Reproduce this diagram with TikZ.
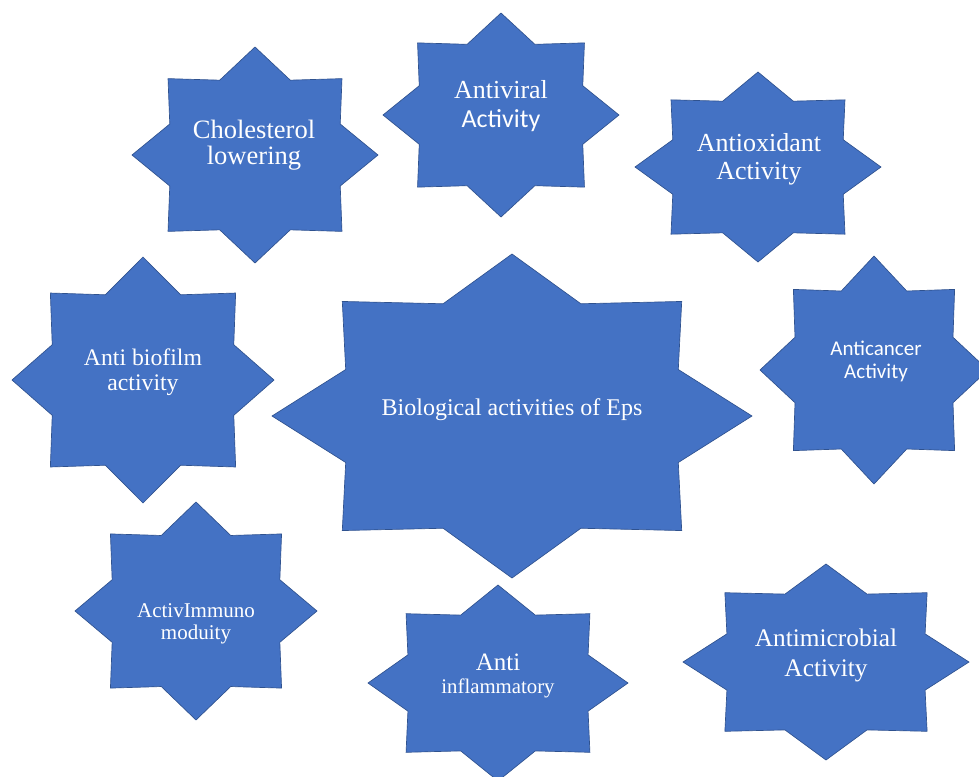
\documentclass[tikz,border=0pt]{standalone}
\usepackage{fontspec}
\setmainfont{Liberation Serif}
\newfontfamily\calibrifont{Carlito}
\definecolor{starblue}{HTML}{4472C4}
\definecolor{staredge}{HTML}{2F528F}

\begin{document}
\begin{tikzpicture}[x=0.75pt,y=-0.75pt,
    star fill/.style={fill=starblue,draw=staredge,line width=0.5pt,line join=miter},
    star text/.style={text=white,align=center,inner sep=0pt}]

                    \useasboundingbox (0,0) rectangle (979,776);
                    \clip (0,0) rectangle (979,776);

                    % eight-point stars: centre x / centre y / x radius / y radius
                    \foreach \cx/\cy/\rx/\ry in {255/155/123/108, 501/115/118/102, 758/167/123/95,
                        143/380/131/123, 512/416/240/162, 874/370/114/114,
                        196/611/121/109, 498/683/130/98, 826/662/143/98}
                      \filldraw[star fill, shift={(\cx,\cy)}] (0:{\rx} and {\ry})
                        \foreach \k in {0,...,7}{ -- ({\k*45+22.5}:{0.75*\rx} and {0.75*\ry}) -- ({\k*45+45}:{\rx} and {\ry})} -- cycle;

                    \node[star text, font=\fontsize{19.9}{19.5}\selectfont] (chol) at (254,145) {Cholesterol\\lowering};
                    \node[star text, font=\fontsize{19.5}{21.75}\selectfont] (antiviral) at (501,106) {Antiviral\\{\calibrifont Activity}};
                    \node[star text, font=\fontsize{19.5}{21}\selectfont] (antiox) at (759,159) {Antioxidant\\Activity};
                    \node[star text, font=\fontsize{17.8}{18.75}\selectfont] (biofilm) at (143,372) {Anti biofilm\\activity};
                    \node[star text, font=\fontsize{18}{20}\selectfont] (eps) at (512,410) {Biological activities of Eps};
                    \node[star text, font=\calibrifont\fontsize{15.75}{17.25}\selectfont] (cancer) at (876,361) {Anticancer\\Activity};
                    \node[star text, font=\fontsize{15.75}{16.5}\selectfont] (immuno) at (196,624) {ActivImmuno\\moduity};
                    \node[star text, font=\fontsize{15.6}{17.25}\selectfont] (inflam) at (498,676) {{\fontsize{18.75}{17.25}\selectfont Anti}\\inflammatory};
                    \node[star text, font=\fontsize{19}{22.5}\selectfont] (microbe) at (826,655) {Antimicrobial\\Activity};

                \end{tikzpicture}
\end{document}
